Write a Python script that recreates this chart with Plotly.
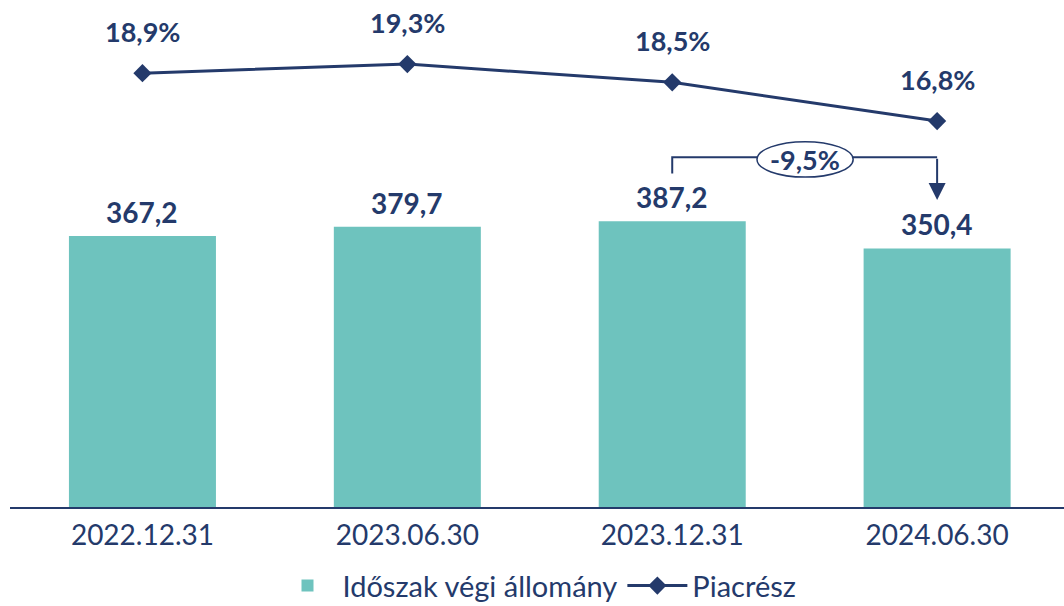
import plotly.graph_objects as go

categories = ["2022.12.31", "2023.06.30", "2023.12.31", "2024.06.30"]
allomany = [367.2, 379.7, 387.2, 350.4]
piacresz = [18.9, 19.3, 18.5, 16.8]
bar_labels = ["367,2", "379,7", "387,2", "350,4"]
line_labels = ["18,9%", "19,3%", "18,5%", "16,8%"]
change_label = "-9,5%"

NAVY = "#243A6B"
TEAL = "#6EC3BE"
FONT = "Lato"

fig = go.Figure()
fig.add_trace(go.Bar(
    x=categories, y=allomany, name="Időszak végi állomány",
    marker=dict(color=TEAL, line=dict(width=0)), width=0.555,
))
fig.add_trace(go.Scatter(
    x=categories, y=piacresz, name="Piacrész", yaxis="y2",
    mode="lines+markers",
    line=dict(color=NAVY, width=3),
    marker=dict(symbol="diamond", size=14, color=NAVY),
))

annotations = []
for c, v, t in zip(categories, allomany, bar_labels):
    annotations.append(dict(x=c, y=v, xref="x", yref="y", text=f"<b>{t}</b>",
                            showarrow=False, yanchor="bottom", yshift=5,
                            font=dict(size=28, color=NAVY, family=FONT)))
for c, v, t in zip(categories, piacresz, line_labels):
    annotations.append(dict(x=c, y=v, xref="x", yref="y2", text=f"<b>{t}</b>",
                            showarrow=False, yanchor="bottom", yshift=23,
                            font=dict(size=27, color=NAVY, family=FONT)))

# change bracket between 2023.12.31 and 2024.06.30
y_top = 474
y_left = 452
y_tip = 416
shapes = [
    dict(type="path", xref="x", yref="y",
         path=f"M 2,{y_left} L 2,{y_top} L 3,{y_top}",
         line=dict(color=NAVY, width=2)),
    dict(type="circle", xref="x", yref="y", x0=2.32, x1=2.683, y0=447, y1=495,
         fillcolor="white", line=dict(color=NAVY, width=1.5), layer="above"),
]
annotations.append(dict(x=3, y=y_tip, ax=3, ay=y_top, xref="x", yref="y",
                        axref="x", ayref="y", showarrow=True, arrowhead=2,
                        arrowsize=1.7, arrowwidth=2, arrowcolor=NAVY, text=""))
annotations.append(dict(x=2.5, y=471, xref="x", yref="y", text=f"<b>{change_label}</b>",
                        showarrow=False, font=dict(size=27, color=NAVY, family=FONT)))

fig.update_layout(
    width=1064, height=606,
    margin=dict(l=10, r=0, t=0, b=99, autoexpand=False),
    paper_bgcolor="white", plot_bgcolor="white",
    font=dict(family=FONT, color=NAVY),
    showlegend=True,
    legend=dict(orientation="h", x=0.5, xanchor="center", y=-0.105, yanchor="top",
                font=dict(size=29, color=NAVY, family=FONT), itemwidth=60,
                traceorder="normal"),
    xaxis=dict(type="category", range=[-0.5, 3.479], showline=True, linecolor=NAVY,
               linewidth=2, showgrid=False, ticks="", zeroline=False,
               ticklabelstandoff=2,
               tickfont=dict(size=28, color=NAVY, family=FONT)),
    yaxis=dict(range=[0, 687], visible=False, showgrid=False, zeroline=False),
    yaxis2=dict(range=[-0.13, 22.11], overlaying="y", visible=False, showgrid=False,
                zeroline=False),
    annotations=annotations, shapes=shapes,
)

fig.write_html("out.html", config={"displayModeBar": False})

# remove default page margin so the figure sits at the window origin
with open("out.html", "r", encoding="utf-8") as f:
    html = f.read()
html = html.replace("<body>", '<body style="margin:0;padding:0;overflow:hidden">', 1)
with open("out.html", "w", encoding="utf-8") as f:
    f.write(html)
